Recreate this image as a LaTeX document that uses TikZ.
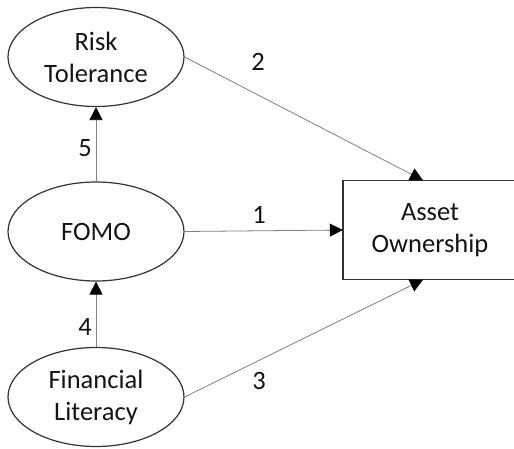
\documentclass[tikz,border=0pt]{standalone}
\usepackage{fontspec}
\setmainfont{Carlito}
\usetikzlibrary{shapes.geometric,arrows.meta,calc}
\begin{document}
\begin{tikzpicture}[x=1pt,y=1pt,
  every node/.style={font=\fontsize{26.5}{32}\selectfont, text=black!92},
  latent/.style={ellipse, draw=black!80, line width=1.2pt, minimum width=176pt, minimum height=99pt, inner sep=0pt, align=center},
  obsbox/.style={rectangle, minimum width=174pt, minimum height=99pt, inner sep=0pt, align=center},
  path/.style={draw=black!50, line width=0.8pt, -{Triangle[length=13pt,width=13pt,color=black]}},
  plabel/.style={inner sep=0pt}
]
\useasboundingbox (0,0) rectangle (514,449);
\clip (0,0) rectangle (514,449);
\node[latent] (risk) at (96,392) {Risk\\Tolerance};
\node[latent] (fomo) at (96,217.5) {FOMO};
\node[latent] (fin) at (96,52) {Financial\\Literacy};
\node[obsbox] (asset) at (430,219) {Asset\\Ownership};
\draw[draw=black!80, line width=1.4pt] ($(asset.north east)+(30,0)$) -- (asset.north west) -- (asset.south west) -- ($(asset.south east)+(30,0)$);
\coordinate (atop) at ($(asset.north)+(-7,0)$);
\coordinate (abot) at ($(asset.south)+(-7,0)$);
\draw[path] (risk.east) -- (atop);
\draw[path] (fomo.east) -- (asset.west);
\draw[path] (fin.east) -- (abot);
\draw[path] (fomo.north) -- (risk.south);
\draw[path] (fin.north) -- (fomo.south);
\node[plabel] (l2) at (258,387) {2};
\node[plabel] (l1) at (259,234) {1};
\node[plabel] (l3) at (259,68) {3};
\node[plabel] (l5) at (85,301) {5};
\node[plabel] (l4) at (85,122) {4};
\end{tikzpicture}
\end{document}
